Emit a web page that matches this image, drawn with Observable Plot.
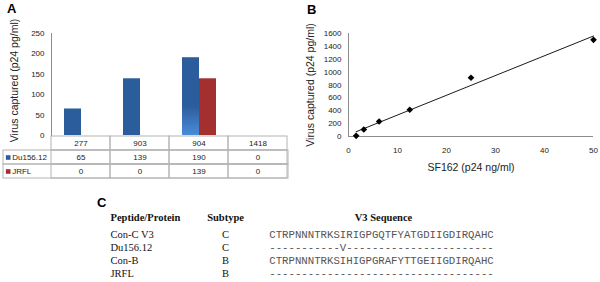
<!DOCTYPE html>
<html>
<head>
<meta charset="utf-8">
<script src="https://cdn.jsdelivr.net/npm/d3@7"></script>
<script src="https://cdn.jsdelivr.net/npm/@observablehq/plot@0.6"></script>
<style>
  html, body { margin: 0; padding: 0; background: #fff; }
  #fig { position: relative; width: 600px; height: 282px; overflow: hidden; background: #fff; }
  #fig > * { position: absolute; }
  .panel { font-family: "Liberation Sans", Arial, sans-serif; font-weight: bold; font-size: 13px; line-height: 13px; color: #000; }
</style>
</head>
<body>
<div id="fig"></div>
<script>
// ---------- Panel A data ----------
const categories = ["277", "903", "904", "1418"];
const seriesNames = ["Du156.12", "JRFL"];
const du156Values = [65, 139, 190, 0];
const jrflValues = [0, 0, 139, 0];
const yTicksA = [0, 50, 100, 150, 200, 250];
const seriesColors = ["#2B5C9B", "#A3302E"];

// ---------- Panel B data ----------
const sf162 = [1.5625, 3.125, 6.25, 12.5, 25, 50];
const captured = [10, 109, 233, 415, 912, 1502];
const xTicksB = [0, 10, 20, 30, 40, 50];
const yTicksB = [0, 200, 400, 600, 800, 1000, 1200, 1400, 1600];

// ---------- Panel C data ----------
const headers = ["Peptide/Protein", "Subtype", "V3 Sequence"];
const peptides = ["Con-C V3", "Du156.12", "Con-B", "JRFL"];
const subtypes = ["C", "C", "B", "B"];
const sequences = [
  "CTRPNNNTRKSIRIGPGQTFYATGDIIGDIRQAHC",
  "-----------V-----------------------",
  "CTRPNNNTRKSIHIGPGRAFYTTGEIIGDIRQAHC",
  "-----------------------------------"
];

const yTitle = "Virus captured (p24 pg/ml)";
const xTitleB = "SF162 (p24 ng/ml)";

// ---------- derived tables ----------
const seriesValues = [du156Values, jrflValues];
const bars = [];
seriesNames.forEach((s, j) => categories.forEach((c, i) => bars.push({cat: c, series: s, value: seriesValues[j][i]})));
const tableRows = ["cat", ...seriesNames];
const tableCells = [];
categories.forEach((c, i) => {
  tableCells.push({cat: c, row: "cat", label: c});
  seriesNames.forEach((s, j) => tableCells.push({cat: c, row: s, label: String(seriesValues[j][i])}));
});
const points = sf162.map((x, i) => ({x, y: captured[i]}));
const rowsC = peptides.map((p, i) => ({peptide: p, subtype: subtypes[i], seq: sequences[i]}));

const baseStyle = {background: "transparent", overflow: "visible", fontFamily: "'Liberation Sans', Arial, sans-serif", fontSize: "8px", color: "#222"};
const fig = document.getElementById("fig");
function place(el, left, top) { el.style.left = left + "px"; el.style.top = top + "px"; fig.appendChild(el); return el; }

// ---------- Panel A: bars ----------
const gradientDefs = () => {
  const defs = d3.create("svg:defs");
  const g = defs.append("linearGradient").attr("id", "g904").attr("x1", 0).attr("y1", 0).attr("x2", 0).attr("y2", 1);
  g.append("stop").attr("offset", "0%").attr("stop-color", seriesColors[0]);
  g.append("stop").attr("offset", "62%").attr("stop-color", seriesColors[0]);
  g.append("stop").attr("offset", "100%").attr("stop-color", "#4A8CD8");
  return defs.node();
};

const plotA = Plot.plot({
  width: 300, height: 136,
  marginLeft: 49, marginRight: 12, marginTop: 33, marginBottom: 1,
  style: baseStyle,
  fx: {domain: categories, padding: 0, axis: null, label: null},
  x: {domain: seriesNames, paddingInner: 0, paddingOuter: 0.7, axis: null},
  y: {domain: [0, 250], ticks: yTicksA, tickSize: 0, tickPadding: 7, label: null},
  color: {domain: seriesNames, range: seriesColors},
  marks: [
    gradientDefs,
    Plot.barY(bars, {fx: "cat", x: "series", y: "value", fill: "series"}),
    Plot.barY(bars, {filter: d => d.cat === "904" && d.series === "Du156.12", fx: "cat", x: "series", y: "value", fill: "url(#g904)"}),
    Plot.frame({anchor: "left", facetAnchor: "left", stroke: "#8c8c8c"}),
    Plot.text([yTitle], {frameAnchor: "left", facetAnchor: "left", textAnchor: "middle", lineAnchor: "middle", rotate: -90, dx: -37, dy: -4, fontSize: 10.5, fill: "#222"})
  ]
});
place(plotA, 0, 0);

// ---------- Panel A: data table ----------
const plotTable = Plot.plot({
  width: 300, height: 182,
  marginTop: 135, marginBottom: 3, marginLeft: 3, marginRight: 12,
  style: baseStyle,
  x: {type: "band", domain: categories, range: [49, 288], padding: 0, axis: null},
  y: {type: "band", domain: tableRows, padding: 0, axis: null},
  color: {domain: seriesNames, range: seriesColors},
  marks: [
    Plot.cell(tableCells, {x: "cat", y: "row", stroke: "#b4b4b4", fill: "none"}),
    Plot.cell(seriesNames, {y: d => d, stroke: "#b4b4b4", fill: "none"}),
    Plot.text(tableCells, {x: "cat", y: "row", text: "label", fontSize: 8, fill: "#222"}),
    Plot.dot(seriesNames, {y: d => d, frameAnchor: "left", dx: 4.7, symbol: "square", r: 2.6, fill: d => d}),
    Plot.text(seriesNames, {y: d => d, frameAnchor: "left", dx: 8.7, textAnchor: "start", fontSize: 8, fill: "#222"})
  ]
});
place(plotTable, 0, 0);

// ---------- Panel B ----------
const plotB = Plot.plot({
  width: 300, height: 175,
  marginLeft: 48, marginRight: 7, marginTop: 33, marginBottom: 39,
  style: baseStyle,
  x: {domain: [0, 50], ticks: xTicksB, tickSize: 0, tickPadding: 11, tickFormat: d => String(d), label: null},
  y: {domain: [0, 1600], ticks: yTicksB, tickSize: 0, tickPadding: 7, tickFormat: d => String(d), label: null},
  marks: [
    Plot.ruleX([0], {stroke: "#8c8c8c"}),
    Plot.ruleY([0], {stroke: "#8c8c8c"}),
    Plot.linearRegressionY(points, {x: "x", y: "y", stroke: "#000", strokeWidth: 0.9, ci: 0}),
    Plot.dot(points, {x: "x", y: "y", symbol: "diamond2", r: 3, fill: "#000", stroke: "none"}),
    Plot.text([yTitle], {frameAnchor: "left", textAnchor: "middle", lineAnchor: "middle", rotate: -90, dx: -38, fontSize: 10.5, fill: "#222"}),
    Plot.text([xTitleB], {frameAnchor: "bottom", lineAnchor: "middle", dy: 31, fontSize: 10.5, fill: "#222"})
  ]
});
place(plotB, 300, 0);

// ---------- Panel C ----------
const serif = "'Liberation Serif', 'Times New Roman', serif";
const mono = "'Liberation Mono', 'Courier New', monospace";
const plotC = Plot.plot({
  width: 600, height: 82,
  marginTop: 0, marginBottom: 0, marginLeft: 0, marginRight: 0,
  style: {...baseStyle, fontFamily: serif, fontSize: "10.5px", color: "#111"},
  y: {type: "point", domain: peptides, range: [33.6, 74], padding: 0, axis: null},
  marks: [
    Plot.text([headers[0]], {frameAnchor: "top-left", lineAnchor: "middle", dx: 110, dy: 17.6, textAnchor: "start", fontWeight: "bold", fill: "#111"}),
    Plot.text([headers[1]], {frameAnchor: "top-left", lineAnchor: "middle", dx: 225, dy: 17.6, textAnchor: "middle", fontWeight: "bold", fill: "#111"}),
    Plot.text([headers[2]], {frameAnchor: "top-left", lineAnchor: "middle", dx: 383, dy: 17.6, textAnchor: "middle", fontWeight: "bold", fill: "#111"}),
    Plot.text(rowsC, {y: "peptide", text: "peptide", frameAnchor: "left", dx: 110, textAnchor: "start", fill: "#111"}),
    Plot.text(rowsC, {y: "peptide", text: "subtype", frameAnchor: "left", dx: 225, textAnchor: "middle", fill: "#111"}),
    Plot.text(rowsC, {y: "peptide", text: "seq", frameAnchor: "left", dx: 381, textAnchor: "middle", fontFamily: mono, fontSize: 10.7, fill: "#555"})
  ]
});
place(plotC, 0, 200);

// ---------- panel letters ----------
[["A", 7, 2], ["B", 307, 3], ["C", 97, 196]].forEach(([t, l, tp]) => {
  const d = document.createElement("div");
  d.className = "panel";
  d.textContent = t;
  place(d, l, tp);
});
</script>
</body>
</html>
